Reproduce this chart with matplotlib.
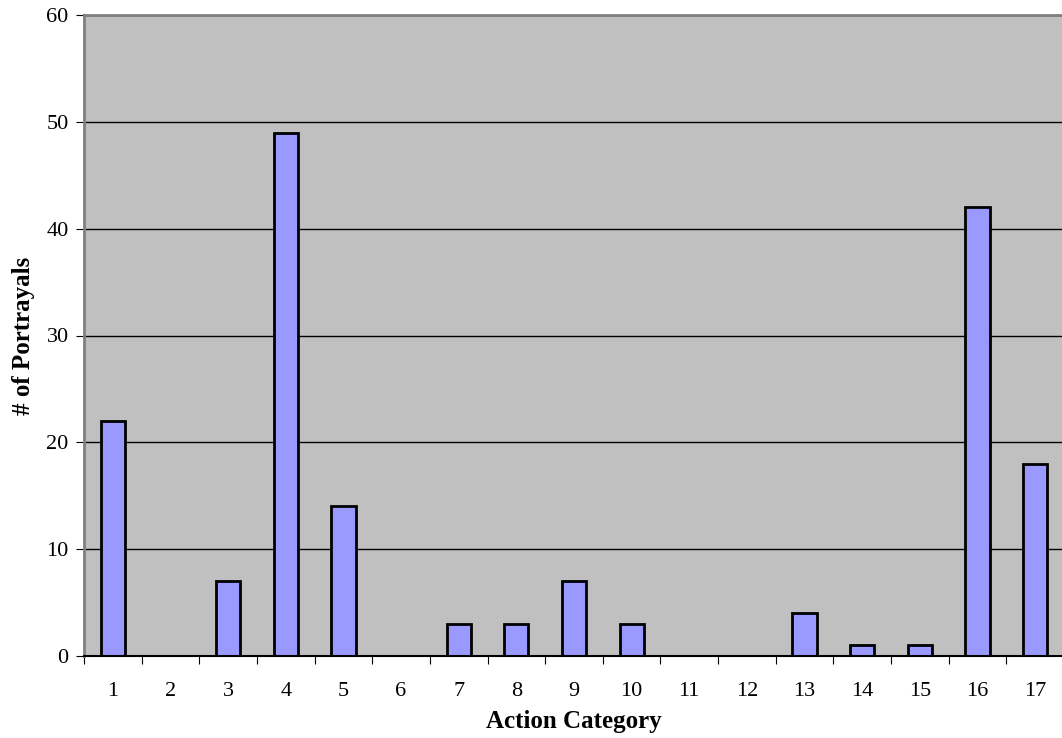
import matplotlib.pyplot as plt
import numpy as np

# Portrayals per action category
categories = [str(i) for i in range(1, 18)]
portrayals = [22, 0, 7, 49, 14, 0, 3, 3, 7, 3, 0, 0, 4, 1, 1, 42, 18]

plt.rcParams['font.family'] = ['Liberation Serif', 'DejaVu Serif']

fig = plt.figure(figsize=(10.62, 7.38), dpi=100)
ax = fig.add_axes([84 / 1062, 82 / 738, 980 / 1062, 641 / 738])
ax.set_facecolor('#C0C0C0')

x = np.arange(1, len(categories) + 1)
ax.bar(x, portrayals, width=0.42, color='#9999FF', edgecolor='black', linewidth=2, zorder=2)

ax.set_xlim(0.5, 17.5)
ax.set_ylim(0, 60)
ax.set_yticks(range(0, 61, 10))
ax.yaxis.grid(True, color='black', linewidth=1, zorder=1)

# ticks at category boundaries, labels centered
ax.set_xticks(np.arange(0.5, 18, 1))
ax.set_xticklabels([])
ax.set_xticks(x, minor=True)
ax.set_xticklabels(categories, minor=True)
ax.tick_params(axis='x', which='major', length=6, direction='out', color='black')
ax.tick_params(axis='x', which='minor', length=0, pad=19, labelsize=16)
ax.tick_params(axis='y', length=6, direction='out', labelsize=16, pad=5)

for side in ['left', 'top']:
    ax.spines[side].set_color('#808080')
    ax.spines[side].set_linewidth(2)
ax.spines['right'].set_visible(False)
ax.spines['bottom'].set_color('black')
ax.spines['bottom'].set_linewidth(1.5)
ax.spines['bottom'].set_zorder(4)

ax.set_xlabel('Action Category', fontsize=18, fontweight='bold', labelpad=6)
ax.set_ylabel('# of Portrayals', fontsize=18, fontweight='bold', labelpad=8)

fig.savefig('out.png', dpi=100)
